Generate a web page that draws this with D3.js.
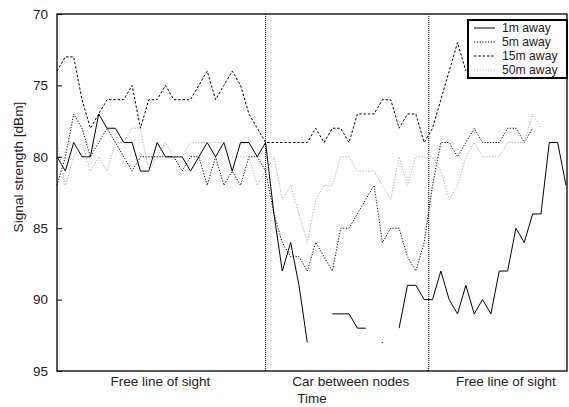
<!DOCTYPE html>
<html>
<head>
<meta charset="utf-8">
<script src="https://cdn.jsdelivr.net/npm/d3@7"></script>
<style>
  body { margin: 0; background: #fff; }
  svg { display: block; font-family: "Liberation Sans", Arial, sans-serif; }
</style>
</head>
<body>
<svg id="chart" width="569" height="407"></svg>
<script>
// Signal strength samples, one value per time step (null = no reading).
const away1m = [80, 81, 79, 80, 80, 77, 78, 78, 79, 79, 81, 81, 79, 80, 80, 80, 81, 80, 79, 80,
  79, 81, 79, 79, 80, 79, 84, 88, 86, 89, 93, null, null, 91, 91, 91, 92, 92, null, 93,
  null, 92, 89, 89, 90, 90, 88, 90, 91, 89, 91, 90, 91, 88, 88, 85, 86, 84, 84, 79,
  79, 82];
const away5m = [82, 80, 77, 78, 80, 79, 78, 79, 80, 81, 80, 80, 80, 80, 80, 81, 80, 80, 82, 80,
  82, 81, 82, 80, 80, 81, 84, 86, 87, 87, 88, 86, 87, 88, 85, 85, 84, 83, 82, 86,
  85, 85, 87, 88, 86, 82, 79, 79, 80, 79, 78, 79, 79, 79, 78, 78, 79, 78];
const away15m = [74, 73, 73, 76, 78, 77, 76, 76, 76, 75, 78, 76, 76, 75, 76, 76, 76, 75, 74, 76,
  75, 74, 75, 77, 78, 79, 79, 79, 79, 79, 79, 78, 79, 78, 78, 79, 77, 77, 77, 76,
  76, 78, 77, 77, 79, 78, 76, 74, 72, 74];
const away50m = [79, 82, 80, 79, 81, 80, 81, 79, 79, 78, 78, 81, 80, 79, 80, 80, 79, 79, 79, 79,
  79, 80, 80, 80, 82, 81, 80, 83, 82, 84, 86, 83, 82, 82, 80, 80, 81, 81, 81, 82,
  83, 80, 82, 80, 80, 80, 81, 83, 82, 80, 79, 80, 80, 80, 79, 79, 79, 77, 78];

const seriesNames = ["1m away", "5m away", "15m away", "50m away"];
const yTicks = [70, 75, 80, 85, 90, 95];
const phaseBreaks = [25, 44.55];          // time steps where the situation changes
const phaseLabels = ["Free line of sight", "Car between nodes", "Free line of sight"];
const phaseCenters = [12.4, 35.2, 53.8];  // label positions, in time steps

const series = [
  { name: seriesNames[0], values: away1m, color: "#000", dash: null },
  { name: seriesNames[1], values: away5m, color: "#000", dash: "1.2,1.6" },
  { name: seriesNames[2], values: away15m, color: "#000", dash: "2.5,1.8" },
  { name: seriesNames[3], values: away50m, color: "#aaa", dash: "1.2,1.6" },
];

const svg = d3.select("#chart");
const m = { left: 57, right: 567, top: 14, bottom: 371 };

const x = d3.scaleLinear().domain([0, 61]).range([m.left, 566]);
const y = d3.scaleLinear().domain([70, 95]).range([m.top, m.bottom]);

// Phase separators.
svg.append("g")
  .selectAll("line")
  .data(phaseBreaks)
  .join("line")
  .attr("x1", (d) => x(d)).attr("x2", (d) => x(d))
  .attr("y1", m.top).attr("y2", m.bottom)
  .attr("stroke", "#000")
  .attr("stroke-width", 1)
  .attr("stroke-dasharray", "1,1");

// Data lines.
const line = d3.line()
  .defined((d) => d != null)
  .x((d, i) => x(i))
  .y((d) => y(d));

const lines = svg.append("g").attr("fill", "none");
series.forEach((s) => {
  lines.append("path")
    .datum(s.values)
    .attr("d", line)
    .attr("stroke", s.color)
    .attr("stroke-width", 1)
    .attr("stroke-dasharray", s.dash);
  // Lone readings between gaps show up as a dot.
  s.values.forEach((v, i) => {
    if (v == null) return;
    const prev = s.values[i - 1], next = s.values[i + 1];
    if (prev == null && next == null && i > 0) {
      lines.append("rect")
        .attr("x", x(i) - 0.5).attr("y", y(v) - 0.5)
        .attr("width", 1).attr("height", 1)
        .attr("fill", s.color);
    }
  });
});

// Frame and y axis.
svg.append("rect")
  .attr("x", m.left).attr("y", m.top)
  .attr("width", m.right - m.left).attr("height", m.bottom - m.top)
  .attr("fill", "none").attr("stroke", "#000").attr("stroke-width", 1.3);

const yAxis = svg.append("g")
  .attr("transform", `translate(${m.left},0)`)
  .call(d3.axisRight(y).tickValues(yTicks).tickSize(5).tickFormat(""));
yAxis.select(".domain").remove();
yAxis.selectAll("line").attr("stroke", "#000");

svg.append("g")
  .selectAll("text")
  .data(yTicks)
  .join("text")
  .attr("x", m.left - 9)
  .attr("y", (d) => y(d))
  .attr("dy", "0.35em")
  .attr("text-anchor", "end")
  .attr("font-size", 13.5)
  .attr("fill", "#222")
  .text((d) => d);

svg.append("text")
  .attr("transform", "translate(23,167) rotate(-90)")
  .attr("text-anchor", "middle")
  .attr("font-size", 13.7)
  .attr("fill", "#222")
  .text("Signal strength [dBm]");

// Phase labels and x title.
svg.append("g")
  .selectAll("text")
  .data(phaseLabels)
  .join("text")
  .attr("x", (d, i) => x(phaseCenters[i]))
  .attr("y", 386)
  .attr("text-anchor", "middle")
  .attr("font-size", 13.5)
  .attr("fill", "#222")
  .text((d) => d);

svg.append("text")
  .attr("x", 312).attr("y", 403)
  .attr("text-anchor", "middle")
  .attr("font-size", 13.5)
  .attr("fill", "#222")
  .text("Time");

// Legend (opaque box, upper right).
const lg = svg.append("g").attr("transform", "translate(468,20)");
lg.append("rect")
  .attr("width", 99).attr("height", 58)
  .attr("fill", "#fff").attr("stroke", "#000").attr("stroke-width", 2);
series.forEach((s, i) => {
  const yy = 8 + i * 14;
  lg.append("line")
    .attr("x1", 6).attr("x2", 27).attr("y1", yy).attr("y2", yy)
    .attr("stroke", s.color).attr("stroke-width", 1)
    .attr("stroke-dasharray", s.dash);
  lg.append("text")
    .attr("x", 34).attr("y", yy).attr("dy", "0.35em")
    .attr("font-size", 12.2).attr("fill", "#222")
    .text(s.name);
});
</script>
</body>
</html>
